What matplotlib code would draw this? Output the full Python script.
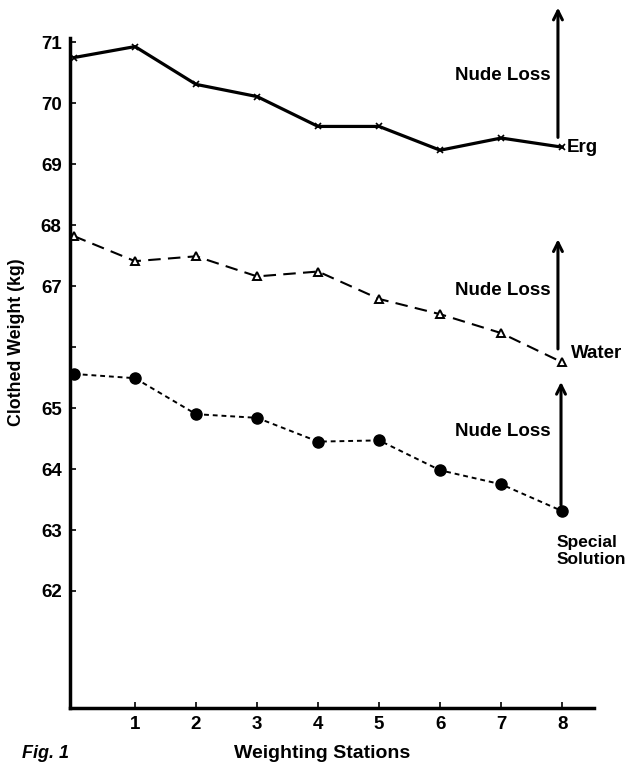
import matplotlib.pyplot as plt

plt.rcParams['font.family'] = ['Liberation Sans', 'DejaVu Sans']
plt.rcParams['font.weight'] = 'bold'

# Data
stations = [0, 1, 2, 3, 4, 5, 6, 7, 8]
erg = [70.75, 70.93, 70.31, 70.11, 69.62, 69.62, 69.23, 69.43, 69.28]
water = [67.82, 67.41, 67.49, 67.16, 67.24, 66.79, 66.54, 66.23, 65.75]
special = [65.56, 65.49, 64.90, 64.84, 64.45, 64.47, 63.98, 63.75, 63.31]

y_ticks = [62, 63, 64, 65, 66, 67, 68, 69, 70, 71]
y_labels = ['62', '63', '64', '65', '', '67', '68', '69', '70', '71']
x_ticks = [1, 2, 3, 4, 5, 6, 7, 8]

fig = plt.figure(figsize=(6.27, 7.67), dpi=100)
ax = fig.add_axes([0.1116, 0.0769, 0.8357, 0.8735])

ax.plot(stations, erg, color='black', lw=2.3, marker='x', ms=4, mew=1.2)
ax.plot(stations, water, color='black', lw=1.5, dashes=(6, 3.5),
        marker='^', ms=6, mfc='white', mec='black', mew=1.4)
ax.plot(stations, special, color='black', lw=1.4, dashes=(2.5, 2),
        marker='o', ms=8, mfc='black', mec='black')

ax.set_xlim(-0.066, 8.52)
ax.set_ylim(60.08, 71.07)
ax.set_xticks(x_ticks)
ax.set_yticks(y_ticks)
ax.set_yticklabels(y_labels)
for s in ['top', 'right']:
    ax.spines[s].set_visible(False)
for s in ['left', 'bottom']:
    ax.spines[s].set_linewidth(2.5)
ax.tick_params(direction='in', length=4, width=1.2, labelsize=13.5, pad=6)
for lab in ax.get_xticklabels() + ax.get_yticklabels():
    lab.set_fontweight('bold')

# Nude loss arrows
arrows = [(7.93, 69.44, 71.57), (7.93, 65.97, 67.77), (7.98, 63.41, 65.43)]
for x, y0, y1 in arrows:
    ax.annotate('', xy=(x, y1), xytext=(x, y0), annotation_clip=False,
                arrowprops=dict(arrowstyle='->', lw=2.2, color='black',
                                shrinkA=0, shrinkB=0, mutation_scale=16))

for y in [70.46, 66.93, 64.61]:
    ax.text(7.02, y, 'Nude Loss', ha='center', va='center', fontsize=13.5,
            fontweight='bold')

ax.text(8.08, 69.28, 'Erg', ha='left', va='center', fontsize=13.5, fontweight='bold')
ax.text(8.15, 65.9, 'Water', ha='left', va='center', fontsize=13.5, fontweight='bold')
ax.text(7.90, 62.65, 'Special\nSolution', ha='left', va='center', fontsize=12.5,
        fontweight='bold', linespacing=1.15)

fig.text(17 / 627, 1 - 342 / 767, 'Clothed Weight (kg)', rotation=90,
         ha='center', va='center', fontsize=12.8, fontweight='bold')
fig.text(322 / 627, 1 - 754 / 767, 'Weighting Stations', ha='center',
         va='center', fontsize=14, fontweight='bold')
fig.text(22 / 627, 1 - 745 / 767, 'Fig. 1', ha='left', va='top', fontsize=13,
         fontweight='bold', style='italic')

fig.savefig('out.png', dpi=100)
